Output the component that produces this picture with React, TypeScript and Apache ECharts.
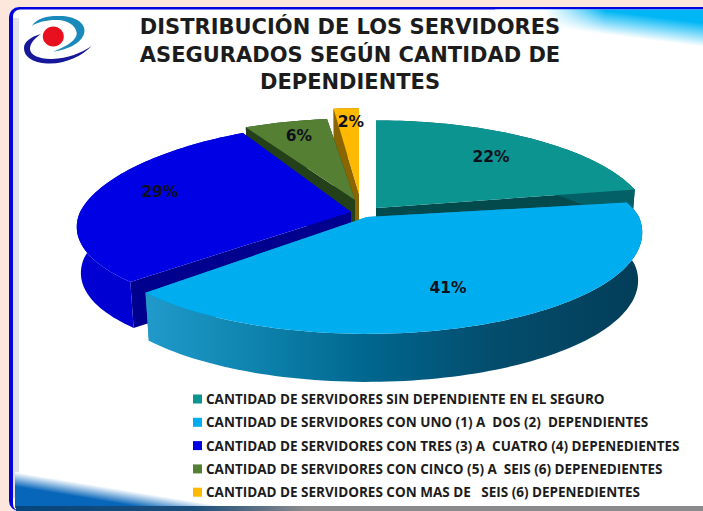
import React, { useEffect, useRef } from "react";
import * as echarts from "echarts";

const TITLE = "DISTRIBUCIÓN DE LOS SERVIDORES\nASEGURADOS SEGÚN CANTIDAD DE\nDEPENDIENTES";
const categories = [
  "CANTIDAD DE SERVIDORES SIN DEPENDIENTE EN EL SEGURO",
  "CANTIDAD DE SERVIDORES CON UNO (1) A  DOS (2)  DEPENDIENTES",
  "CANTIDAD DE SERVIDORES CON TRES (3) A  CUATRO (4) DEPENEDIENTES",
  "CANTIDAD DE SERVIDORES CON CINCO (5) A  SEIS (6) DEPENEDIENTES",
  "CANTIDAD DE SERVIDORES CON MAS DE   SEIS (6) DEPENEDIENTES",
];
const values = [22, 41, 29, 6, 2];

const faceColors = ["#0c9491", "#00aeef", "#0000e4", "#558033", "#ffb900"];
const radialWallColors = ["#024a4c", "#0a7fab", "#00008f", "#24401a", "#8a6500"];
const rimWallColors: any[] = [
  "#036066",
  new echarts.graphic.LinearGradient(0, 0, 1, 0, [
    { offset: 0, color: "#2199cb" },
    { offset: 0.2, color: "#0f86b0" },
    { offset: 0.45, color: "#00668e" },
    { offset: 0.7, color: "#044d6d" },
    { offset: 1, color: "#033d58" },
  ]),
  "#0000d2",
  "#24401a",
  "#8a6500",
];

// Exploded pie geometry: apex of each slice and its radii in the picture.
const sliceCx = [376, 367, 351, 355, 359];
const sliceCy = [208, 217, 212, 200, 194];
const sliceRx = [271, 272, 271, 257, 234];
const sliceRy = [101, 99, 96.5, 94, 99];
const sliceTiltY = [0.153, 0.153, 0.08, 0.153, 0.153];
const sliceBackY = [1, 0.8, 1, 1, 1];
const sliceSkew = [0, 0, 8, 0, 0];
const sliceZ = [3, 5, 4, 2, 1];
const labelX = [491, 448, 160, 299, 351];
const labelY = [157, 288, 192, 136, 122];
const TILT_X = 0.153;
const DEPTH = [48, 48, 46, 48, 48];
const FONT_HEAVY = "'DejaVu Sans', sans-serif";
const FONT_LEGEND = "'Open Sans', sans-serif";

echarts.graphic.registerShape(
  "logoUpper",
  echarts.graphic.extendPath(
    "M31.7 25.7 C38 17 50 15.5 60 16 C75 16 85 23 84.5 31 C84 42 68 50 53 51.7 C63 48 77 41 76.7 33 C76 25 66 20 58 20 C48 19.5 38 22 31.7 25.7 Z",
    {}
  )
);
echarts.graphic.registerShape(
  "logoLower",
  echarts.graphic.extendPath(
    "M41 34 C30 37 24 42 24 48 C24 58 35 63.5 50 63.5 C66 63.5 82 56 91.7 46 C81 53 68 58.5 52 59 C40 59.5 30 55 30 49 C30 43 35 38 41 34 Z",
    {}
  )
);

const total = values.reduce((a, b) => a + b, 0);

function project(i: number, deg: number, shrink = 1, drop = 0): number[] {
  const t = (deg * Math.PI) / 180;
  const u = Math.sin(t);
  const v = Math.cos(t);
  const sx = 1 / (1 + TILT_X * v);
  const sy = 1 / (1 + sliceTiltY[i] * v);
  const back = v > 0 ? sliceBackY[i] : 1;
  return [
    sliceCx[i] + sliceRx[i] * shrink * u * sx + sliceSkew[i] * Math.max(v, 0),
    sliceCy[i] - sliceRy[i] * back * v * sy + drop,
  ];
}

function sliceRenderer(i: number) {
  return (_params: any, api: any) => {
    const before = values.slice(0, i).reduce((a, b) => a + b, 0);
    const a0 = (before / total) * 360;
    const a1 = a0 + (api.value(0) / total) * 360;
    const topArc: number[][] = [];
    const lowArc: number[][] = [];
    const n = Math.max(4, Math.ceil((a1 - a0) / 1.5));
    for (let k = 0; k <= n; k++) {
      const d = a0 + ((a1 - a0) * k) / n;
      topArc.push(project(i, d));
      lowArc.push(project(i, d, 0.985, DEPTH[i]));
    }
    const apex = [sliceCx[i], sliceCy[i]];
    const apexLow = [sliceCx[i], sliceCy[i] + DEPTH[i]];
    const radial = (top: number[], low: number[]) => ({
      type: "polygon",
      shape: { points: [apex, top, low, apexLow] },
      style: { fill: radialWallColors[i] },
    });
    return {
      type: "group",
      children: [
        radial(topArc[0], lowArc[0]),
        radial(topArc[n], lowArc[n]),
        {
          type: "polygon",
          shape: { points: [...topArc, ...lowArc.slice().reverse()] },
          style: { fill: rimWallColors[i] },
        },
        {
          type: "polygon",
          shape: { points: [apex, ...topArc] },
          style: { fill: faceColors[i] },
        },
        {
          type: "text",
          style: {
            text: `${api.value(0)}%`,
            x: labelX[i],
            y: labelY[i],
            align: "center",
            verticalAlign: "middle",
            font: `bold 15.5px ${FONT_HEAVY}`,
            fill: "#10101c",
          },
        },
      ],
    };
  };
}

export default function App() {
  const ref = useRef<HTMLDivElement>(null);
  useEffect(() => {
    document.body.style.margin = "0";
    const chart = echarts.init(ref.current!, null, { renderer: "svg" });
    chart.setOption({
      animation: false,
      title: {
        text: TITLE,
        left: 345,
        top: 8.5,
        textAlign: "center",
        textStyle: { fontFamily: FONT_HEAVY, fontWeight: "bold", fontSize: 21, lineHeight: 27.5, color: "#1c1c1c" },
      },
      legend: {
        orient: "vertical",
        left: 188,
        top: 387,
        icon: "rect",
        itemWidth: 9,
        itemHeight: 9,
        itemGap: 9.3,
        selectedMode: false,
        data: categories,
        textStyle: { fontFamily: FONT_LEGEND, fontWeight: "bold", fontSize: 13.5, lineHeight: 14, color: "#1c1c1c", padding: [0, 0, 0, -1] },
      },
      graphic: [
        { type: "rect", z: 0, silent: true, shape: { x: 0, y: 0, width: 703, height: 511 }, style: { fill: "#fde6db" } },
        { type: "rect", z: 0, silent: true, shape: { x: 9, y: 7, width: 720, height: 504, r: 10 }, style: { fill: "#0404e0" } },
        { type: "rect", z: 0, silent: true, shape: { x: 13, y: 9.5, width: 720, height: 501.5, r: 7 }, style: { fill: "#ffffff" } },
        { type: "rect", z: 0, silent: true, shape: { x: 13, y: 18, width: 6, height: 480 }, style: { fill: "#dfe2ec" } },
        {
          type: "rect",
          z: 0,
          silent: true,
          shape: { x: 500, y: 9.5, width: 203, height: 42 },
          style: {
            fill: new echarts.graphic.LinearGradient(630, 37.5, 633, 14, [
              { offset: 0, color: "#ffffff" },
              { offset: 1, color: "#00b6f5" },
            ], true),
          },
        },
        {
          type: "rect",
          z: 0,
          silent: true,
          shape: { x: 495, y: 9.5, width: 110, height: 42 },
          style: {
            fill: new echarts.graphic.LinearGradient(0, 0, 1, 0, [
              { offset: 0, color: "rgba(255,255,255,1)" },
              { offset: 0.45, color: "rgba(255,255,255,1)" },
              { offset: 1, color: "rgba(255,255,255,0)" },
            ]),
          },
        },
        {
          type: "polygon",
          z: 0,
          silent: true,
          shape: { points: [[15, 472], [240, 508], [15, 508]] },
          style: {
            fill: new echarts.graphic.LinearGradient(100, 486, 97.7, 500, [
              { offset: 0, color: "#ffffff" },
              { offset: 1, color: "#0866ba" },
            ], true),
          },
        },
        {
          type: "rect",
          z: 0,
          silent: true,
          shape: { x: 16, y: 506, width: 687, height: 5 },
          style: {
            fill: new echarts.graphic.LinearGradient(0, 0, 1, 0, [
              { offset: 0, color: "#07457c" },
              { offset: 0.26, color: "#1c4f7c" },
              { offset: 0.42, color: "#8a8a8c" },
              { offset: 1, color: "#8a8a8c" },
            ]),
          },
        },
        { type: "logoUpper", z: 1, silent: true, style: { fill: "#1a8abb" } },
        { type: "logoLower", z: 1, silent: true, style: { fill: "#17179a" } },
        { type: "ellipse", z: 1, silent: true, shape: { cx: 53.3, cy: 36.5, rx: 10.5, ry: 10 }, style: { fill: "#e8101e" } },
      ],
      series: categories.map((name, i) => ({
        type: "custom",
        name,
        coordinateSystem: "none",
        z: sliceZ[i] + 1,
        silent: true,
        itemStyle: { color: faceColors[i] },
        data: [[values[i]]],
        renderItem: sliceRenderer(i),
      })),
    });
    return () => chart.dispose();
  }, []);
  return <div ref={ref} style={{ position: "absolute", left: 0, top: 0, width: 703, height: 511 }} />;
}
